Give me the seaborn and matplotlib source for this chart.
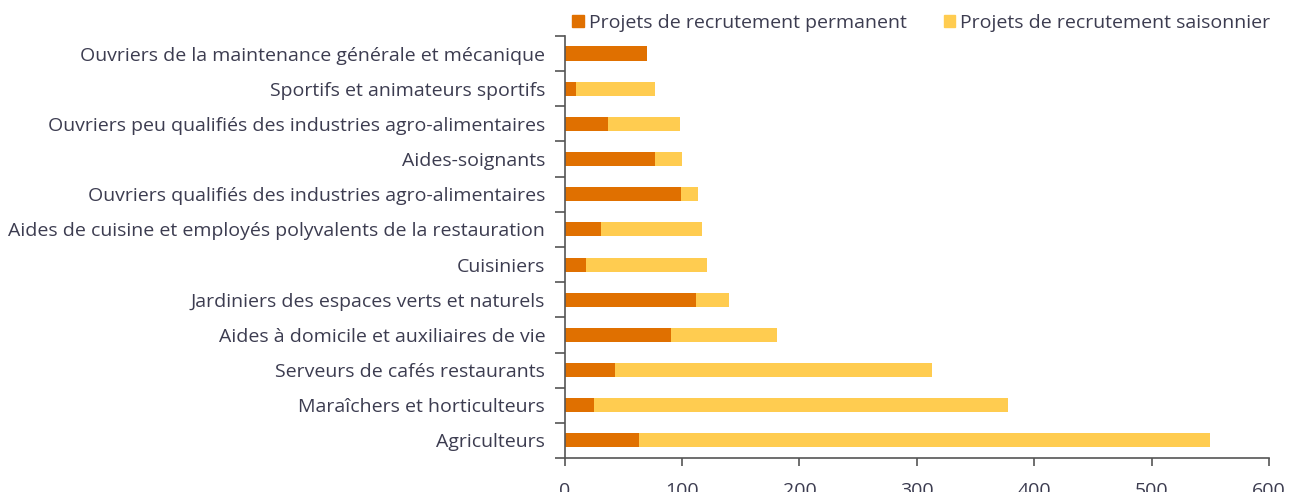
import pandas as pd
import numpy as np
import matplotlib
matplotlib.use("Agg")
import matplotlib.pyplot as plt
import seaborn as sns
from matplotlib.patches import Patch

# Metiers, from top to bottom as in the chart
metiers = [
    "Ouvriers de la maintenance générale et mécanique",
    "Sportifs et animateurs sportifs",
    "Ouvriers peu qualifiés des industries agro-alimentaires",
    "Aides-soignants",
    "Ouvriers qualifiés des industries agro-alimentaires",
    "Aides de cuisine et employés polyvalents de la restauration",
    "Cuisiniers",
    "Jardiniers des espaces verts et naturels",
    "Aides à domicile et auxiliaires de vie",
    "Serveurs de cafés restaurants",
    "Maraîchers et horticulteurs",
    "Agriculteurs",
]
permanent = [70, 10, 37, 77, 99, 31, 18, 112, 91, 43, 25, 63]
saisonnier = [0, 67, 61, 23, 15, 86, 103, 28, 90, 270, 353, 487]

c_perm = "#E07000"
c_sais = "#FFCC50"
txt = "#3C3C50"

df = pd.DataFrame({"metier": metiers, "permanent": permanent, "saisonnier": saisonnier})
df["total"] = df["permanent"] + df["saisonnier"]

sns.set_style("white")
plt.rcParams["font.family"] = ["Open Sans", "DejaVu Sans"]

fig = plt.figure(figsize=(12.89, 4.92), dpi=100)
ax = fig.add_axes([0.438, 0.069, 0.5465, 0.858])

sns.barplot(data=df, x="total", y="metier", color=c_sais, width=0.4,
            saturation=1, ax=ax, order=metiers, linewidth=0)
sns.barplot(data=df, x="permanent", y="metier", color=c_perm, width=0.4,
            saturation=1, ax=ax, order=metiers, linewidth=0)

ax.set_xlim(0, 600)
ax.set_ylim(len(metiers) - 0.5, -0.5)
ax.set_xticks(range(0, 601, 100))
ax.set_xlabel("")
ax.set_ylabel("")

# ticks on category boundaries for y
ax.set_yticks(np.arange(-0.5, len(metiers)), minor=True)
ax.tick_params(axis="y", which="major", left=False, length=0, pad=14,
               labelsize=14, labelcolor=txt)
ax.tick_params(axis="y", which="minor", left=True, length=7,
               color="#555555", width=1.2)
ax.tick_params(axis="x", bottom=True, length=6, color="#555555", width=1.2,
               pad=11, labelsize=14, labelcolor=txt)

sns.despine(ax=ax)
for s in ["left", "bottom"]:
    ax.spines[s].set_color("#555555")
    ax.spines[s].set_linewidth(1.2)

handles = [Patch(color=c_perm, label="Projets de recrutement permanent"),
           Patch(color=c_sais, label="Projets de recrutement saisonnier")]
leg = fig.legend(handles=handles, loc="center right", bbox_to_anchor=(0.9855, 0.954),
                 ncol=2, frameon=False, fontsize=14, handlelength=0.6,
                 handleheight=0.6, handletextpad=0.25, columnspacing=1.9,
                 borderpad=0, borderaxespad=0)
for t in leg.get_texts():
    t.set_color(txt)

fig.savefig("out.png", dpi=100)
